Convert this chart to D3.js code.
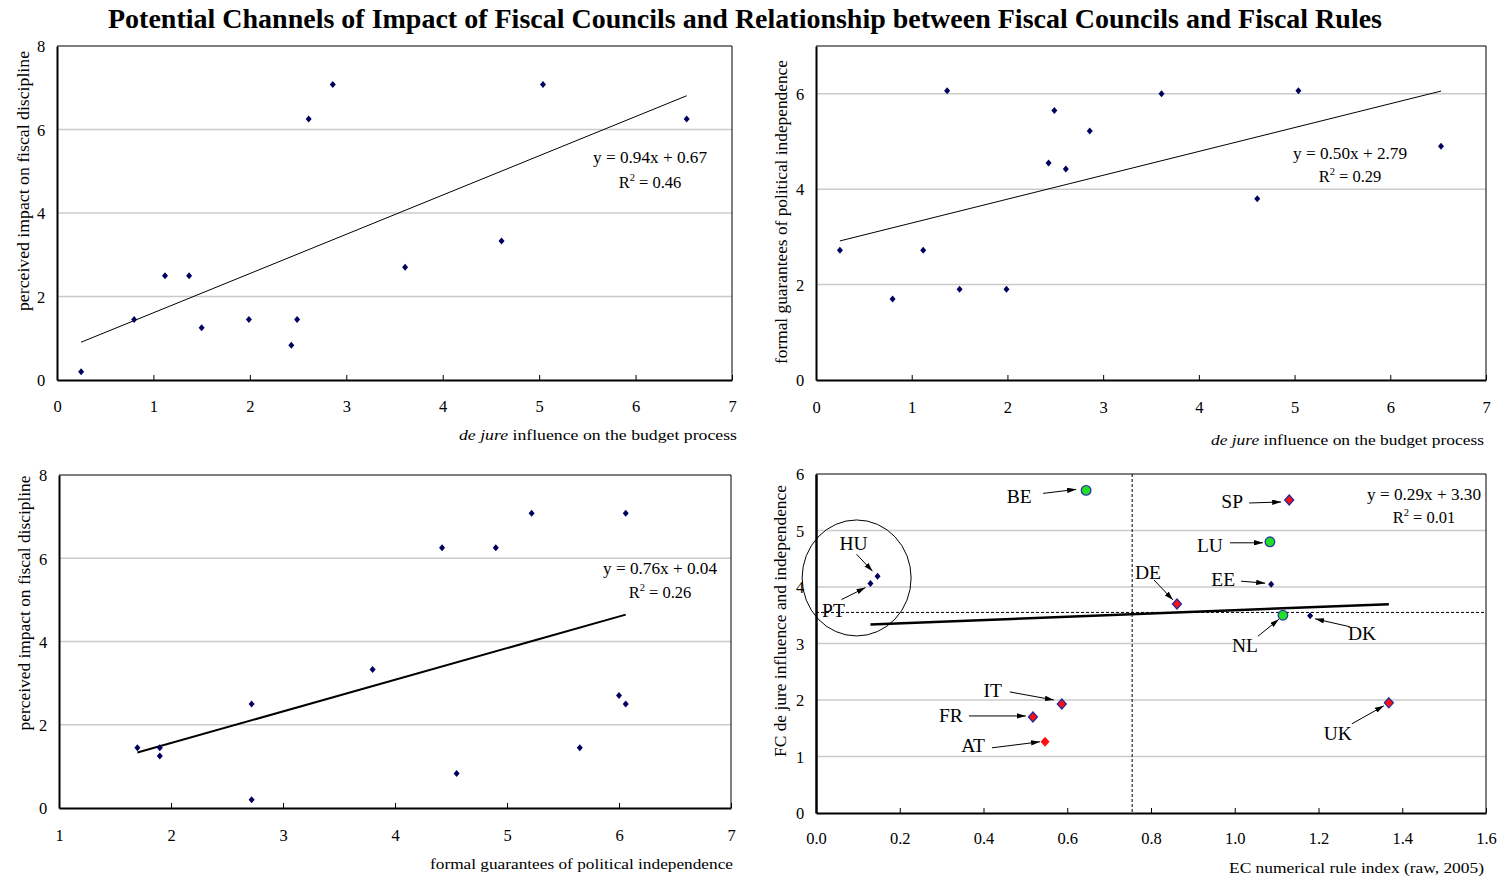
<!DOCTYPE html>
<html>
<head>
<meta charset="utf-8">
<script src="https://cdn.jsdelivr.net/npm/d3@7"></script>
<style>
  html, body { margin: 0; padding: 0; background: #ffffff; }
  svg { display: block; font-family: "Liberation Serif", "Times New Roman", serif; }
</style>
</head>
<body>
<svg id="chart" width="1499" height="883"></svg>
<script>
// ---- Survey scores of fiscal councils (one entry per council) ----
const deJureInfluence   = [0.25, 0.80, 1.12, 1.37, 1.50, 1.99, 2.43, 2.49, 2.61, 2.86, 3.61, 4.61, 5.04, 6.53];
const perceivedImpact   = [0.20, 1.45, 2.50, 2.50, 1.25, 1.45, 0.83, 1.45, 6.25, 7.08, 2.70, 3.33, 7.08, 6.25];
const formalGuarantees  = [2.72, 1.70, 2.72, 6.06, 1.90, 1.90, 4.55, 5.65, 4.42, 5.22, 6.00, 3.80, 6.06, 4.90];

// ---- EU countries: numerical rule index vs. council index ----
const countries   = ["BE", "SP", "LU", "EE", "DE", "NL", "DK", "HU", "PT", "IT", "FR", "AT", "UK"];
const ruleIndex   = [0.645, 1.130, 1.084, 1.087, 0.862, 1.115, 1.180, 0.147, 0.130, 0.587, 0.518, 0.547, 1.368];
const councilIdx  = [5.71, 5.54, 4.80, 4.05, 3.70, 3.50, 3.49, 4.19, 4.06, 1.93, 1.70, 1.26, 1.95];
const markerKind  = ["green", "redRim", "green", "navy", "redRim", "green", "navy", "navy", "navy", "redRim", "redRim", "red", "redRim"];

// ---- Fitted lines: [slope, intercept, R²] ----
const fitImpactOnDeJure     = [0.94, 0.67, 0.46];
const fitGuaranteeOnDeJure  = [0.50, 2.79, 0.29];
const fitImpactOnGuarantee  = [0.76, 0.04, 0.26];
const fitCouncilOnRules     = [0.29, 3.30, 0.01];

// ---- Reference lines and highlighted group in the rules panel ----
const ruleIndexCut   = 0.755;
const councilIdxCut  = 3.55;
const highlightGroup = [0.097, 4.16];

// ---- Axis ticks ----
const ticks0to7   = [0, 1, 2, 3, 4, 5, 6, 7];
const ticks1to7   = [1, 2, 3, 4, 5, 6, 7];
const ticksEven8  = [0, 2, 4, 6, 8];
const ticksEven6  = [0, 2, 4, 6];
const ticksRule   = [0, 0.2, 0.4, 0.6, 0.8, 1.0, 1.2, 1.4, 1.6];
const ticksUnit6  = [0, 1, 2, 3, 4, 5, 6];

const svg = d3.select("#chart");

svg.append("text")
  .attr("x", 745).attr("y", 28)
  .attr("text-anchor", "middle")
  .attr("font-size", 28).attr("font-weight", "bold")
  .attr("textLength", 1274).attr("lengthAdjust", "spacingAndGlyphs")
  .text("Potential Channels of Impact of Fiscal Councils and Relationship between Fiscal Councils and Fiscal Rules");

// Shared frame: box, light grid, ticks and labels.
function makePanel(cfg) {
  const x = d3.scaleLinear().domain(cfg.xDomain).range([cfg.left, cfg.right]);
  const y = d3.scaleLinear().domain(cfg.yDomain).range([cfg.bottom, cfg.top]);
  const g = svg.append("g");

  // horizontal grid
  g.selectAll("line.grid").data(cfg.yTicks.filter(t => t > cfg.yDomain[0] && t < cfg.yDomain[1]))
    .join("line").attr("class", "grid")
    .attr("x1", cfg.left).attr("x2", cfg.right)
    .attr("y1", d => y(d)).attr("y2", d => y(d))
    .attr("stroke", "#cbcbcb").attr("stroke-width", 1.5);

  // top and right border
  g.append("path")
    .attr("d", `M${cfg.left},${cfg.top}H${cfg.right}V${cfg.bottom}`)
    .attr("fill", "none").attr("stroke", "#000").attr("stroke-width", 1);

  // x axis with inward ticks
  const xAxis = d3.axisBottom(x).tickValues(cfg.xTicks).tickSizeInner(-5).tickSizeOuter(0)
    .tickFormat(cfg.xFormat || (d => d));
  const gx = g.append("g").attr("transform", `translate(0,${cfg.bottom})`).call(xAxis);
  gx.select(".domain").attr("stroke-width", 2);
  gx.selectAll(".tick line").attr("stroke-width", 1);
  gx.selectAll(".tick text").attr("y", cfg.xLabelGap).attr("dy", "0.35em")
    .attr("font-size", 16.5).attr("font-family", "Liberation Serif, serif").attr("fill", "#000");

  // y axis, labels only
  const yAxis = d3.axisLeft(y).tickValues(cfg.yTicks).tickSize(0).tickPadding(0).tickFormat(d => d);
  const gy = g.append("g").attr("transform", `translate(${cfg.left},0)`).call(yAxis);
  gy.select(".domain").attr("stroke-width", cfg.yAxisWidth || 2);
  gy.selectAll(".tick text").attr("x", -cfg.yLabelGap).attr("text-anchor", "middle").attr("dy", "0.35em")
    .attr("font-size", 16.5).attr("font-family", "Liberation Serif, serif").attr("fill", "#000");

  // axis titles
  const xt = g.append("text").attr("x", cfg.xTitle.x).attr("y", cfg.xTitle.y)
    .attr("text-anchor", "end").attr("font-size", cfg.xTitle.size || 15.5)
    .attr("textLength", cfg.xTitle.len).attr("lengthAdjust", "spacingAndGlyphs");
  cfg.xTitle.parts.forEach(p => xt.append("tspan").attr("font-style", p.italic ? "italic" : null).text(p.t));

  g.append("text")
    .attr("transform", `translate(${cfg.yTitle.x},${cfg.yTitle.y}) rotate(-90)`)
    .attr("text-anchor", "middle").attr("dy", "0.35em")
    .attr("font-size", cfg.yTitle.size || 16)
    .attr("textLength", cfg.yTitle.len).attr("lengthAdjust", "spacingAndGlyphs")
    .text(cfg.yTitle.text);

  return { x, y, g };
}

function fitLine(p, fit, x0, x1, width) {
  p.g.append("line")
    .attr("x1", p.x(x0)).attr("y1", p.y(fit[0] * x0 + fit[1]))
    .attr("x2", p.x(x1)).attr("y2", p.y(fit[0] * x1 + fit[1]))
    .attr("stroke", "#000").attr("stroke-width", width);
}

function fitText(p, fit, cx, yEq, yR) {
  p.g.append("text").attr("x", cx).attr("y", yEq).attr("text-anchor", "middle").attr("font-size", 16.5)
    .attr("textLength", 114).attr("lengthAdjust", "spacingAndGlyphs")
    .text(`y = ${fit[0].toFixed(2)}x + ${fit[1].toFixed(2)}`);
  const r = p.g.append("text").attr("x", cx).attr("y", yR).attr("text-anchor", "middle").attr("font-size", 16.5);
  r.append("tspan").text("R");
  r.append("tspan").attr("font-size", 10.5).attr("dy", -7).text("2");
  r.append("tspan").attr("dy", 7).text(` = ${fit[2].toFixed(2)}`);
}

const smallDiamond = "M0,-3.5L3,0L0,3.5L-3,0Z";
const bigDiamond   = "M0,-5L4.5,0L0,5L-4.5,0Z";

function dots(p, xs, ys) {
  p.g.selectAll("path.dot").data(xs.map((v, i) => [v, ys[i]])).join("path")
    .attr("class", "dot")
    .attr("d", smallDiamond)
    .attr("transform", d => `translate(${p.x(d[0])},${p.y(d[1])})`)
    .attr("fill", "#00005e");
}

const dejureTitle = [{ t: "de jure", italic: true }, { t: "  influence on the budget process" }];

// ---- Panel 1: perceived impact vs de jure influence ----
const p1 = makePanel({
  left: 57, right: 732, top: 46, bottom: 380,
  xDomain: [0, 7], yDomain: [0, 8], xTicks: ticks0to7, yTicks: ticksEven8,
  xLabelGap: 26, yLabelGap: 16,
  xTitle: { x: 737, y: 440, len: 278, parts: dejureTitle },
  yTitle: { x: 23, y: 181, len: 260, text: "perceived impact on fiscal discipline" }
});
fitLine(p1, fitImpactOnDeJure, d3.min(deJureInfluence), d3.max(deJureInfluence), 1);
dots(p1, deJureInfluence, perceivedImpact);
fitText(p1, fitImpactOnDeJure, 650, 163, 188);

// ---- Panel 2: formal guarantees vs de jure influence ----
const p2 = makePanel({
  left: 816, right: 1486, top: 46, bottom: 380,
  xDomain: [0, 7], yDomain: [0, 7], xTicks: ticks0to7, yTicks: ticksEven6,
  xLabelGap: 27, yLabelGap: 16,
  xTitle: { x: 1484, y: 445, len: 273, parts: dejureTitle },
  yTitle: { x: 781, y: 212, len: 304, text: "formal guarantees of political independence" }
});
fitLine(p2, fitGuaranteeOnDeJure, d3.min(deJureInfluence), d3.max(deJureInfluence), 1);
dots(p2, deJureInfluence, formalGuarantees);
fitText(p2, fitGuaranteeOnDeJure, 1350, 159, 182);

// ---- Panel 3: perceived impact vs formal guarantees ----
const p3 = makePanel({
  left: 59, right: 731, top: 475, bottom: 808,
  xDomain: [1, 7], yDomain: [0, 8], xTicks: ticks1to7, yTicks: ticksEven8,
  xLabelGap: 27, yLabelGap: 16,
  xTitle: { x: 733, y: 869, len: 303, parts: [{ t: "formal guarantees of political independence" }] },
  yTitle: { x: 24, y: 603, len: 255, text: "perceived impact on fiscal discipline" }
});
fitLine(p3, fitImpactOnGuarantee, d3.min(formalGuarantees), d3.max(formalGuarantees), 2);
dots(p3, formalGuarantees, perceivedImpact);
fitText(p3, fitImpactOnGuarantee, 660, 574, 598);

// ---- Panel 4: council index vs EC numerical rule index ----
const p4 = makePanel({
  left: 816, right: 1486, top: 474, bottom: 813,
  xDomain: [0, 1.6], yDomain: [0, 6], xTicks: ticksRule, yTicks: ticksUnit6,
  xFormat: d3.format(".1f"),
  xLabelGap: 25, yLabelGap: 16, yAxisWidth: 2.5,
  xTitle: { x: 1484, y: 873, len: 255, parts: [{ t: "EC numerical rule index (raw, 2005)" }] },
  yTitle: { x: 780, y: 621, len: 272, size: 17.5, text: "FC de jure influence and independence" }
});

// reference cuts
p4.g.append("line")
  .attr("x1", p4.x(ruleIndexCut)).attr("x2", p4.x(ruleIndexCut))
  .attr("y1", p4.y(6)).attr("y2", p4.y(0))
  .attr("stroke", "#000").attr("stroke-width", 1).attr("stroke-dasharray", "3,2");
p4.g.append("line")
  .attr("x1", p4.x(0)).attr("x2", p4.x(1.6))
  .attr("y1", p4.y(councilIdxCut)).attr("y2", p4.y(councilIdxCut))
  .attr("stroke", "#000").attr("stroke-width", 1).attr("stroke-dasharray", "3,2");

// highlighted pair
p4.g.append("ellipse")
  .attr("cx", p4.x(highlightGroup[0])).attr("cy", p4.y(highlightGroup[1]))
  .attr("rx", 54.5).attr("ry", 58)
  .attr("fill", "none").attr("stroke", "#000").attr("stroke-width", 1);

fitLine(p4, fitCouncilOnRules, d3.min(ruleIndex), d3.max(ruleIndex), 2.5);

// arrowhead
svg.append("defs").append("marker")
  .attr("id", "arrowHead").attr("viewBox", "0 0 10 6")
  .attr("refX", 10).attr("refY", 3)
  .attr("markerWidth", 9).attr("markerHeight", 5.4)
  .attr("markerUnits", "userSpaceOnUse")
  .attr("orient", "auto")
  .append("path").attr("d", "M0,0L10,3L0,6Z").attr("fill", "#000");

// label placement around each country: text centre, arrow start, arrow end (pixel offsets)
const labelLayout = {
  BE: [[-67, 6], [-43, 3], [-10, -1]],
  SP: [[-57, 1], [-40, 3], [-8, 2]],
  LU: [[-60, 3], [-40, 1], [-7, 1]],
  EE: [[-48, -5], [-30, -3], [-6, -1]],
  DE: [[-29, -32], [-23, -24], [-4, -4]],
  NL: [[-38, 30], [-25, 21], [-4, 4]],
  DK: [[52, 17], [40, 11], [5, 3]],
  HU: [[-24, -33], [-21, -22], [-5, -5]],
  PT: [[-37, 27], [-29, 16], [-5, 4]],
  IT: [[-69, -14], [-52, -12], [-8, -4]],
  FR: [[-82, -2], [-64, -1], [-7, -1]],
  AT: [[-72, 3], [-53, 6], [-5, 0]],
  UK: [[-51, 30], [-37, 21], [-5, 3]]
};

const rows = countries.map((c, i) => ({ c, x: ruleIndex[i], y: councilIdx[i], kind: markerKind[i] }));

rows.forEach(r => {
  const px = p4.x(r.x), py = p4.y(r.y);
  const [t, a0, a1] = labelLayout[r.c];
  p4.g.append("line")
    .attr("x1", px + a0[0]).attr("y1", py + a0[1])
    .attr("x2", px + a1[0]).attr("y2", py + a1[1])
    .attr("stroke", "#000").attr("stroke-width", 1)
    .attr("marker-end", "url(#arrowHead)");
  p4.g.append("text")
    .attr("x", px + t[0]).attr("y", py + t[1]).attr("dy", "0.35em")
    .attr("text-anchor", "middle").attr("font-size", 19.5)
    .text(r.c);
});

rows.forEach(r => {
  const tr = `translate(${p4.x(r.x)},${p4.y(r.y)})`;
  if (r.kind === "green") {
    p4.g.append("circle").attr("transform", tr).attr("r", 4.8)
      .attr("fill", "#22e02a").attr("stroke", "#2a3a9a").attr("stroke-width", 1.3);
  } else if (r.kind === "redRim") {
    p4.g.append("path").attr("transform", tr).attr("d", bigDiamond)
      .attr("fill", "#ff1010").attr("stroke", "#2a2a9a").attr("stroke-width", 1.3);
  } else if (r.kind === "red") {
    p4.g.append("path").attr("transform", tr).attr("d", bigDiamond).attr("fill", "#ff1010");
  } else {
    p4.g.append("path").attr("transform", tr).attr("d", smallDiamond).attr("fill", "#00005e");
  }
});

fitText(p4, fitCouncilOnRules, 1424, 500, 523);
</script>
</body>
</html>
